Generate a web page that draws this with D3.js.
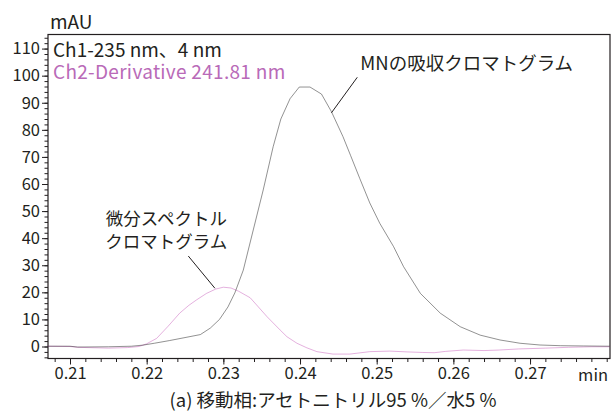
<!DOCTYPE html>
<html>
<head>
<meta charset="utf-8">
<script src="https://cdn.jsdelivr.net/npm/d3@7"></script>
<style>
  html, body { margin: 0; padding: 0; background: #fff; }
  svg { display: block; }
  text { font-family: "Noto Sans CJK JP", "Noto Sans", sans-serif; fill: #231f20; }
</style>
</head>
<body>
<svg id="chart" width="613" height="414"></svg>
<script>
// Retention time (min) and absorbance (mAU) for the two detector channels
const ch1Time = [0.2071, 0.2100, 0.2110, 0.2150, 0.2180, 0.2195, 0.2210, 0.2230, 0.2250, 0.2270,
  0.2283, 0.2295, 0.2306, 0.2315, 0.2326, 0.2339, 0.2352, 0.2365, 0.2375, 0.2387, 0.2399, 0.2413,
  0.2428, 0.2441, 0.2456, 0.2466, 0.2478, 0.2491, 0.2504, 0.2522, 0.2535, 0.2557, 0.2583, 0.2609,
  0.2635, 0.2661, 0.2687, 0.2713, 0.2740, 0.2770, 0.2804];
const ch1Value = [0.1, 0.1, -0.2, -0.1, 0.1, 0.5, 1.2, 2.2, 3.3, 4.4,
  6.8, 10.0, 14.6, 19.8, 28.2, 43.0, 57.8, 73.8, 84.0, 91.5, 95.8, 95.8,
  93.2, 86.7, 77.5, 70.5, 62.0, 53.0, 45.5, 36.9, 29.5, 19.6, 12.3, 7.3,
  4.2, 2.4, 1.2, 0.55, 0.3, 0.2, 0.1];

const ch2Time = [0.2071, 0.2100, 0.2110, 0.2150, 0.2175, 0.2190, 0.2200, 0.2213, 0.2228, 0.2243,
  0.2255, 0.2265, 0.2278, 0.2290, 0.2300, 0.2310, 0.2320, 0.2335, 0.2357, 0.2374, 0.2383, 0.2396,
  0.2409, 0.2422, 0.2443, 0.2465, 0.2491, 0.2517, 0.2540, 0.2560, 0.2575, 0.2590, 0.2613, 0.2640,
  0.2660, 0.2685, 0.2720, 0.2750, 0.2780, 0.2804];
const ch2Value = [0.1, 0.0, -0.3, -0.6, -0.4, 0.0, 1.0, 3.0, 7.5, 12.3,
  15.2, 17.2, 19.6, 21.2, 21.9, 21.6, 20.4, 18.0, 11.0, 6.1, 3.6, 1.2,
  -0.5, -1.9, -2.8, -2.8, -1.9, -1.7, -2.0, -2.2, -2.3, -1.8, -1.3, -1.5,
  -1.3, -0.9, -0.6, -0.3, -0.1, -0.1];

// Axis ticks
const xTicks = [0.21, 0.22, 0.23, 0.24, 0.25, 0.26, 0.27];
const yTicks = [0, 10, 20, 30, 40, 50, 60, 70, 80, 90, 100, 110];
const xUnit = "min";
const yUnit = "mAU";

// Legend and notes
const legendLabels = ["Ch1-235 nm、4 nm", "Ch2-Derivative 241.81 nm"];
const caption = "(a) 移動相:アセトニトリル95 %／水5 %";
const peakNote = { text: ["MNの吸収クロマトグラム"], at: [0.2441, 86.3], tip: [0.24747, 99.4] };
const derivNote = { text: ["微分スペクトル", "クロマトグラム"], at: [0.2289, 21.5], tip: [0.22543, 33.4] };

const colors = { ch1: "#1a1a1a", ch2: "#c04cb4", legend2: "#b96ab8", frame: "#231f20" };

const svg = d3.select("#chart");
const W = 613, H = 414;
const margin = { top: 34.5, right: 3, bottom: 55.5, left: 48 };

const x = d3.scaleLinear().domain([0.20713, 0.28043]).range([margin.left, W - margin.right]);
const y = d3.scaleLinear().domain([-4.43, 115.2]).range([H - margin.bottom, margin.top]);

// Frame
svg.append("rect")
  .attr("x", margin.left).attr("y", margin.top)
  .attr("width", W - margin.right - margin.left)
  .attr("height", H - margin.bottom - margin.top)
  .attr("fill", "none").attr("stroke", colors.frame).attr("stroke-width", 1.2);

// Y axis: major ticks every 10, minor every 2
const yMinor = d3.range(-4, 115, 2);
const yAxisG = svg.append("g").attr("transform", `translate(${margin.left},0)`);
yAxisG.call(d3.axisLeft(y).tickValues(yMinor).tickSize(3.5).tickFormat(""))
  .call(g => g.select(".domain").remove());
yAxisG.append("g").call(d3.axisLeft(y).tickValues(yTicks).tickSize(6).tickPadding(2).tickFormat(d3.format("d")))
  .call(g => g.select(".domain").remove());
yAxisG.selectAll("line").attr("stroke", colors.frame);
yAxisG.selectAll("text").style("font-size", "16.5px").attr("fill", "#231f20");

// X axis: major ticks every 0.01, minor every 0.002
const xMinor = d3.range(0.208, 0.2805, 0.002);
const xAxisG = svg.append("g").attr("transform", `translate(0,${H - margin.bottom})`);
xAxisG.call(d3.axisBottom(x).tickValues(xMinor).tickSize(3.5).tickFormat(""))
  .call(g => g.select(".domain").remove());
xAxisG.append("g").call(d3.axisBottom(x).tickValues(xTicks).tickSize(6).tickPadding(3).tickFormat(d3.format(".2f")))
  .call(g => g.select(".domain").remove());
xAxisG.selectAll("line").attr("stroke", colors.frame);
xAxisG.selectAll("text").style("font-size", "16.5px").attr("fill", "#231f20");
xAxisG.append("text")
  .attr("x", W - 5).attr("y", 22.5)
  .attr("text-anchor", "end")
  .style("font-size", "16.5px")
  .text(xUnit);

// Unit label for y
svg.append("text")
  .attr("x", margin.left + 2).attr("y", 29)
  .style("font-size", "19px")
  .text(yUnit);

// Traces
const line = d3.line().x(d => x(d[0])).y(d => y(d[1]));
const ch1 = d3.zip(ch1Time, ch1Value);
const ch2 = d3.zip(ch2Time, ch2Value);

svg.append("path").datum(ch2)
  .attr("d", line).attr("fill", "none")
  .attr("stroke", colors.ch2).attr("stroke-width", 0.55).attr("stroke-opacity", 0.8);
svg.append("path").datum(ch1)
  .attr("d", line).attr("fill", "none")
  .attr("stroke", colors.ch1).attr("stroke-width", 0.6).attr("stroke-opacity", 0.8);

// Legend
svg.append("text").attr("x", margin.left + 5).attr("y", 57)
  .style("font-size", "19px").text(legendLabels[0]);
svg.append("text").attr("x", margin.left + 5).attr("y", 78.5)
  .style("font-size", "19px").style("letter-spacing", "0.3px")
  .style("fill", colors.legend2).text(legendLabels[1]);

// Leader lines and notes
function note(n, dx, dy, anchor, size) {
  svg.append("line")
    .attr("x1", x(n.at[0])).attr("y1", y(n.at[1]))
    .attr("x2", x(n.tip[0])).attr("y2", y(n.tip[1]))
    .attr("stroke", "#231f20").attr("stroke-width", 1);
  const t = svg.append("text")
    .attr("x", x(n.tip[0]) + dx).attr("y", y(n.tip[1]) + dy)
    .attr("text-anchor", anchor)
    .style("font-size", size);
  n.text.forEach((s, i) => {
    t.append("tspan").attr("x", x(n.tip[0]) + dx).attr("dy", i === 0 ? 0 : 23).text(s);
  });
}
note(peakNote, 3, -7, "start", "18.5px");
note(derivNote, -22, -31, "middle", "17.5px");

// Caption
svg.append("text")
  .attr("x", 333).attr("y", 407)
  .attr("text-anchor", "middle")
  .style("font-size", "18.5px")
  .text(caption);
</script>
</body>
</html>
